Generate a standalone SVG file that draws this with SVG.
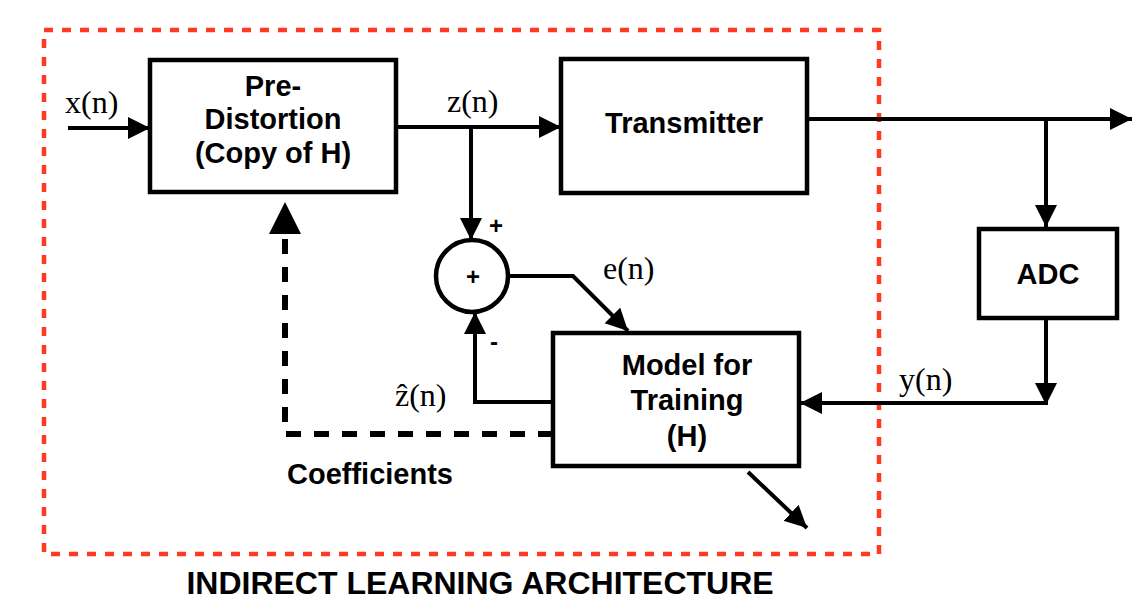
<svg xmlns="http://www.w3.org/2000/svg" width="1132" height="599" viewBox="0 0 1132 599">
<style>
.box{fill:#fff;stroke:#000;stroke-width:4.5}
.ln{fill:none;stroke:#000;stroke-width:4}
.dash{fill:none;stroke:#000;stroke-width:6;stroke-dasharray:15 13}
.bt{font-family:"Liberation Sans",Arial,sans-serif;font-weight:bold;font-size:29px;fill:#000;text-anchor:middle}
.sr{font-family:"Liberation Serif","Times New Roman",serif;font-size:32px;fill:#000}
.sg{font-family:"Liberation Sans",Arial,sans-serif;font-weight:bold;font-size:24px;fill:#000;text-anchor:middle}
</style>
<defs>
<marker id="ah" markerUnits="userSpaceOnUse" markerWidth="24" markerHeight="24" refX="22" refY="11" orient="auto">
<path d="M0,0 L22,11 L0,22 z" fill="#000"/>
</marker>
</defs>
<rect x="44" y="30" width="835" height="524" fill="none" stroke="#ff3b1f" stroke-width="4.5" stroke-dasharray="9 9"/>
<g id="connectors">
<path class="ln" d="M68,128 L150,128" marker-end="url(#ah)"/>
<path class="ln" d="M396,127 L561,127" marker-end="url(#ah)"/>
<path class="ln" d="M471,127 L471,240" marker-end="url(#ah)"/>
<path class="ln" d="M508,276 L573,276 L628,331" marker-end="url(#ah)"/>
<path class="ln" d="M553,402 L475,402 L475,312" marker-end="url(#ah)"/>
<path class="ln" d="M807,119 L1132,119" marker-end="url(#ah)"/>
<path class="ln" d="M1046,119 L1046,227" marker-end="url(#ah)"/>
<path class="ln" d="M1046,318 L1046,405" marker-end="url(#ah)"/>
<path class="ln" d="M1048,403 L800,403" marker-end="url(#ah)"/>
<path class="ln" d="M748,472 L807,528" marker-end="url(#ah)"/>
<path class="dash" d="M553,434 L285,434 L285,233"/>
<polygon points="269,234 301,234 285,202" fill="#000"/>
</g>
<g id="predistortion">
<rect class="box" x="150" y="60" width="246" height="132"/>
<text class="bt" x="273" y="96">Pre-</text>
<text class="bt" x="273" y="129">Distortion</text>
<text class="bt" x="273" y="163">(Copy of H)</text>
</g>
<g id="transmitter">
<rect class="box" x="561" y="59" width="246" height="134"/>
<text class="bt" x="684" y="133">Transmitter</text>
</g>
<g id="adc">
<rect class="box" x="979" y="229" width="138" height="89"/>
<text class="bt" x="1048" y="284">ADC</text>
</g>
<g id="model">
<rect class="box" x="553" y="333" width="246" height="133"/>
<text class="bt" x="687" y="375">Model for</text>
<text class="bt" x="687" y="410">Training</text>
<text class="bt" x="687" y="446">(H)</text>
</g>
<g id="sum">
<circle cx="472" cy="276" r="36" fill="#fff" stroke="#000" stroke-width="4.5"/>
<text class="sg" x="473" y="285">+</text>
</g>
<g id="labels">
<text class="sr" x="65" y="113">x(n)</text>
<text class="sr" x="447" y="112">z(n)</text>
<text class="sr" x="603" y="279">e(n)</text>
<text class="sr" x="395" y="406">ẑ(n)</text>
<text class="sr" x="899" y="390">y(n)</text>
<text class="sg" x="496" y="234">+</text>
<text class="sg" x="494" y="350">-</text>
<text class="bt" x="370" y="484">Coefficients</text>
<text class="bt" x="480" y="594" style="font-size:32px">INDIRECT LEARNING ARCHITECTURE</text>
</g>
</svg>
